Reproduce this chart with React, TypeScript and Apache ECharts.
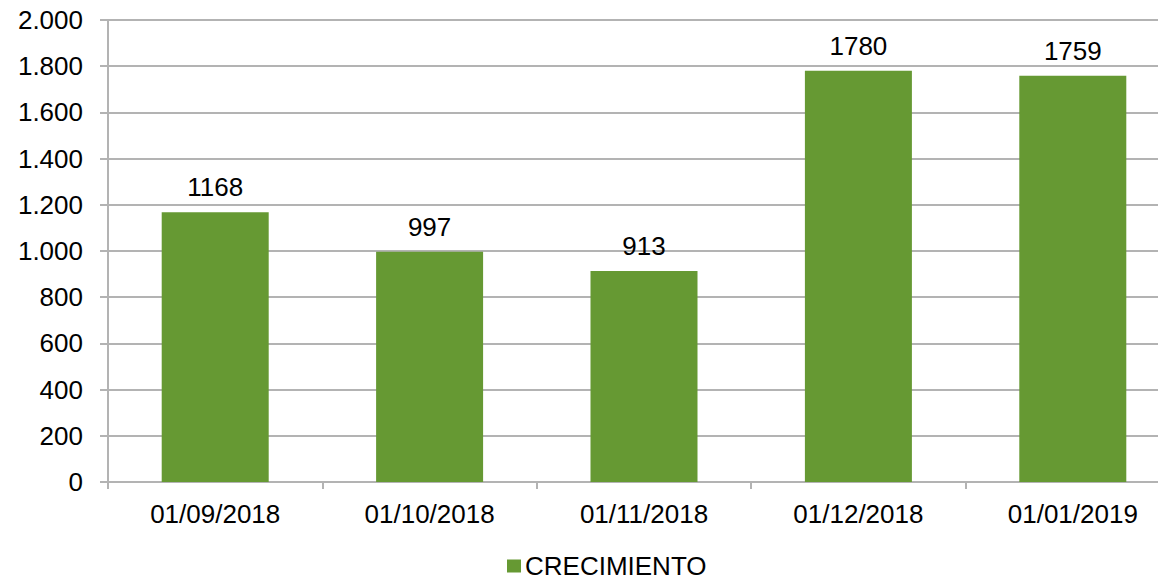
import React, { useEffect, useRef } from "react";
import * as echarts from "echarts";

const categories = ["01/09/2018", "01/10/2018", "01/11/2018", "01/12/2018", "01/01/2019"];
const crecimiento = [1168, 997, 913, 1780, 1759];
const seriesName = "CRECIMIENTO";

const fmt = (v: number) => String(v).replace(/\B(?=(\d{3})+(?!\d))/g, ".");

export default function App() {
  const ref = useRef<HTMLDivElement>(null);
  useEffect(() => {
    const chart = echarts.init(ref.current!, null, { renderer: "svg" });
    const font = "Liberation Sans, Arial, sans-serif";
    const fs = 26;
    chart.setOption({
      animation: false,
      textStyle: { fontFamily: font },
      grid: { left: 108, top: 20, width: 1072, bottom: 99, outerBoundsMode: "none", containLabel: false },
      legend: {
        data: [seriesName],
        top: 553,
        left: 507,
        icon: "rect",
        itemWidth: 14,
        itemHeight: 13,
        itemGap: 6,
        padding: 0,
        textStyle: { fontSize: fs, color: "#000", fontFamily: font, padding: [0, 0, 0, -1] },
      },
      xAxis: {
        type: "category",
        data: categories,
        axisLine: { lineStyle: { color: "#b3b3b3", width: 2 } },
        axisTick: { show: true, length: 7, lineStyle: { color: "#b3b3b3", width: 2 } },
        axisLabel: { fontSize: fs, color: "#000", margin: 19, fontFamily: font },
      },
      yAxis: {
        type: "value",
        min: 0,
        max: 2000,
        interval: 200,
        axisLine: { show: true, lineStyle: { color: "#b3b3b3", width: 2 } },
        axisTick: { show: true, length: 8, lineStyle: { color: "#b3b3b3", width: 2 } },
        splitLine: { lineStyle: { color: "#b3b3b3", width: 2 } },
        axisLabel: { fontSize: fs, color: "#000", margin: 25, fontFamily: font, formatter: (v: number) => fmt(v) },
      },
      series: [
        {
          name: seriesName,
          type: "bar",
          data: crecimiento,
          barWidth: 107,
          itemStyle: { color: "#669933" },
          label: { show: true, position: "top", distance: 12, fontSize: fs, color: "#000", fontFamily: font },
        },
      ],
    });
    return () => chart.dispose();
  }, []);
  return <div ref={ref} style={{ width: 1158, height: 581, position: "absolute", left: 0, top: 0 }} />;
}
